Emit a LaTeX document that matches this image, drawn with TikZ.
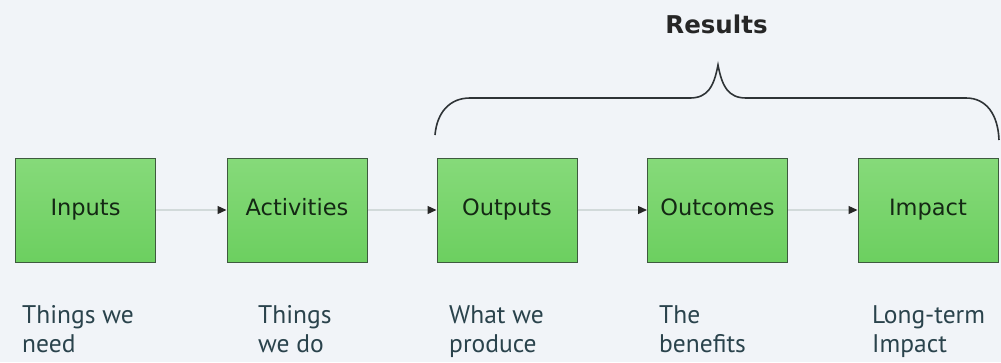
\documentclass[tikz,border=0pt]{standalone}
\usepackage{fontspec}
\setmainfont{DejaVu Sans}
\newfontfamily\capfont{PT Sans}
\usetikzlibrary{arrows.meta}
\definecolor{bg}{HTML}{F1F4F8}
\definecolor{boxtop}{HTML}{86DA7A}
\definecolor{boxbot}{HTML}{6CCF60}
\definecolor{boxedge}{HTML}{3E5A3E}
\definecolor{boxtext}{HTML}{142814}
\definecolor{captext}{HTML}{2A434C}
\definecolor{connline}{HTML}{D2DADA}
\definecolor{bracecol}{HTML}{2E3336}
\tikzset{
  stepbox/.style={draw=boxedge, line width=1pt, top color=boxtop, bottom color=boxbot,
    minimum width=140pt, minimum height=104pt, inner sep=0pt, text=boxtext,
    font=\fontsize{22.5}{27}\selectfont, text height=16pt, text depth=5pt},
  conn/.style={draw=connline, line width=1.3pt,
    -{Triangle[length=9pt,width=8pt,color=black!85]}},
  captionnode/.style={anchor=base west, align=left, inner sep=0pt, text=captext,
    font=\capfont\fontsize{25.5}{29}\selectfont},
  bracepath/.style={draw=bracecol, line width=1.6pt},
}
\begin{document}
\begin{tikzpicture}[x=1pt,y=-1pt]
\fill[bg] (0,0) rectangle (1001,362);
\useasboundingbox (0,0) rectangle (1001,362);
\node[stepbox] (in)  at (85.5,210) {Inputs};
\node[stepbox] (act) at (297,210) {Activities};
\node[stepbox] (out) at (507,210) {Outputs};
\node[stepbox] (oc)  at (717.5,210) {Outcomes};
\node[stepbox] (imp) at (928,210) {Impact};
\draw[conn] (in.east) -- (act.west);
\draw[conn] (act.east) -- (out.west);
\draw[conn] (out.east) -- (oc.west);
\draw[conn] (oc.east) -- (imp.west);
\node[captionnode] (c1) at (22,352) {Things we\\need};
\node[captionnode] (c2) at (258,352) {Things\\we do};
\node[captionnode] (c3) at (449,352) {What we\\produce};
\node[captionnode] (c4) at (659,352) {The\\benefits};
\node[captionnode] (c5) at (872,352) {Long-term\\Impact};
\draw[bracepath] (435,135) .. controls (437,112) and (450,98) .. (470,98) -- (690,98)
  .. controls (708,98) and (714,86) .. (718,65) .. controls (722,86) and (728,98) .. (746,98)
  -- (966,98) .. controls (986,98) and (998,114) .. (999,140);
\node[anchor=base, inner sep=0pt, font=\bfseries\fontsize{24.5}{29}\selectfont, text=black!85] (res) at (716.5,33) {Results};
\end{tikzpicture}
\end{document}
